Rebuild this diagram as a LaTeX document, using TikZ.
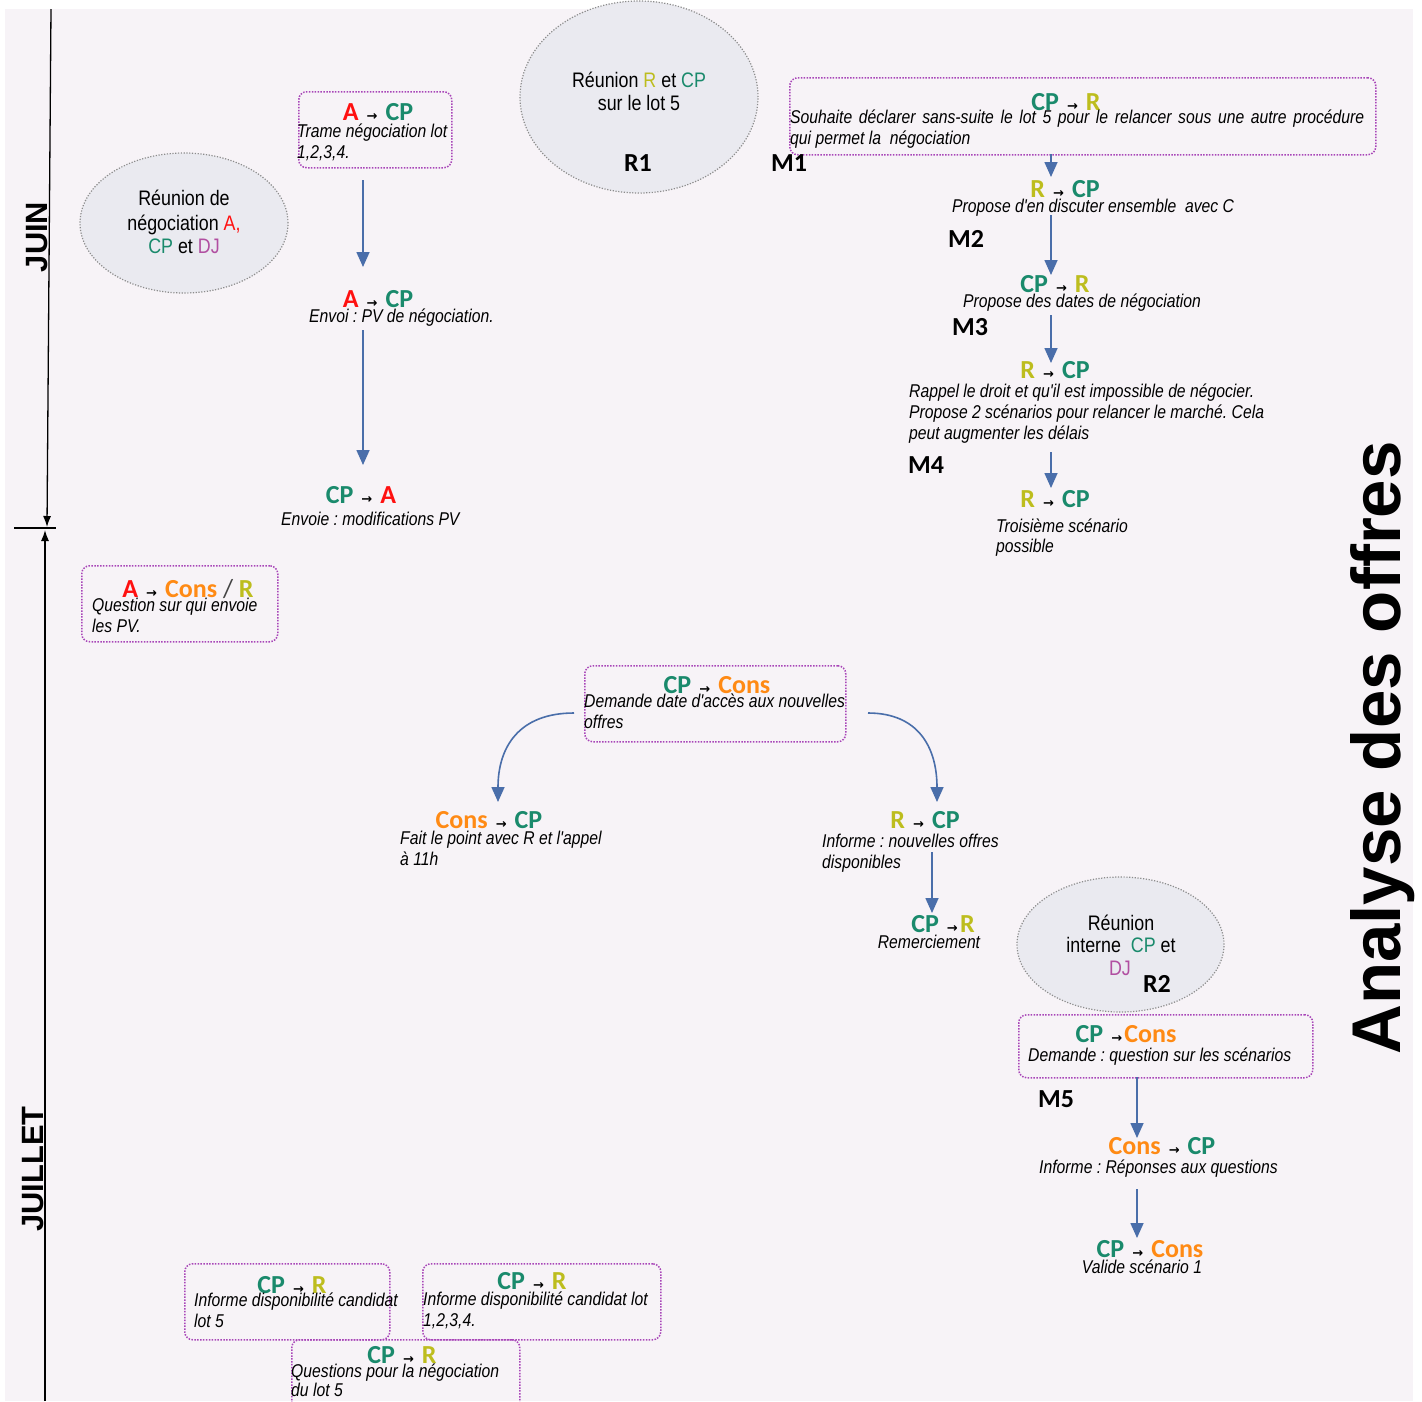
\documentclass[tikz,border=0pt]{standalone}
\usepackage{fontspec}
\setmainfont{Liberation Sans}
\newfontfamily\nrw[FakeStretch=0.85]{Liberation Sans}
\newfontfamily\carl{Carlito}
\newfontfamily\djv{DejaVu Sans}
\usetikzlibrary{shapes.geometric,arrows.meta}
\definecolor{bgc}{HTML}{F7F3F7}
\definecolor{cA}{HTML}{FF1010}
\definecolor{cCP}{HTML}{1A8A6C}
\definecolor{cR}{HTML}{BDBD1E}
\definecolor{cCons}{HTML}{FF8A14}
\definecolor{cDJ}{HTML}{B14FA1}
\definecolor{boxc}{HTML}{A845B8}
\definecolor{ellf}{HTML}{EAEAF0}
\definecolor{elld}{HTML}{8C8C8C}
\definecolor{arrc}{HTML}{4A6EAA}
\definecolor{slc}{HTML}{444444}
\newcommand\kA{\textcolor{cA}{A}}
\newcommand\kCP{\textcolor{cCP}{CP}}
\newcommand\kR{\textcolor{cR}{R}}
\newcommand\kCons{\textcolor{cCons}{Cons}}
\newcommand\kDJ{\textcolor{cDJ}{DJ}}
\newcommand\tto{{\djv\fontsize{13}{13}\selectfont\,→\,}}
\frenchspacing
\begin{document}
\begin{tikzpicture}[x=1pt,y=-1pt,
  hdr/.style={font=\carl\bfseries\fontsize{26}{28}\selectfont, inner sep=0, anchor=base},
  lab/.style={font=\carl\bfseries\fontsize{26}{28}\selectfont, inner sep=0, anchor=base},
  body/.style={font=\nrw\itshape\fontsize{18.5}{21}\selectfont, inner sep=0, anchor=north west, yshift=14pt, align=left, execute at begin node={\frenchspacing\rule{0pt}{14pt}}},
  bodyc/.style={font=\nrw\itshape\fontsize{18.5}{21}\selectfont, inner sep=0, anchor=base},
  etxt/.style={font=\nrw\fontsize{21}{24}\selectfont, inner sep=0, anchor=base},
  month/.style={font=\bfseries\fontsize{30.8}{32}\selectfont, inner sep=0, anchor=base, rotate=90},
  msgbox/.style={draw=boxc, line width=1.5pt, dash pattern=on 1.5pt off 1.4pt, rounded corners=8pt, inner sep=0, anchor=north west},
  ell/.style={ellipse, fill=ellf, draw=elld, line width=1.2pt, dash pattern=on 1.2pt off 1.6pt, inner sep=0},
  arr/.style={draw=arrc, line width=1.6pt, -{Triangle[length=15pt,width=13pt]}},
  tline/.style={line width=1.3pt, -{Latex[length=11pt,width=8pt]}}]
\useasboundingbox (0,0) rectangle (1422,1401);
\fill[white] (0,0) rectangle (1422,1401);
\fill[bgc] (5,9) rectangle (1413,1401);

% timeline
\coordinate (tA) at (51,9);
\coordinate (tB) at (47,527);
\coordinate (tC) at (45,1401);
\coordinate (tD) at (45,530);
\coordinate (tk1) at (14,528);
\coordinate (tk2) at (56,528);
\draw[tline] (tA) -- (tB);
\draw[tline] (tC) -- (tD);
\draw[line width=2pt] (tk1) -- (tk2);
\node[month] (juin) at (47,237) {JUIN};
\node[month] (juillet) at (43,1169) {JUILLET};
\node[font=\bfseries\fontsize{69}{70}\selectfont, inner sep=0, anchor=base, rotate=90] (analyse) at (1400,748) {Analyse des offres};

% ellipses
\node[ell, minimum width=208, minimum height=140] (e1) at (184,223) {};
\node[etxt] (e1a) at (184,205) {Réunion de};
\node[etxt] (e1b) at (184,230) {négociation \textcolor{cA}{A,}};
\node[etxt] (e1c) at (184,253) {\kCP{} et \kDJ};

\node[ell, minimum width=238, minimum height=192] (e2) at (639,97) {};
\node[etxt] (e2a) at (639,87) {Réunion \kR{} et \kCP};
\node[etxt] (e2b) at (639,110) {sur le lot 5};
\node[lab] (r1) at (638,171) {R1};

\node[ell, minimum width=207, minimum height=135] (e3) at (1120.5,944.5) {};
\node[etxt] (e3a) at (1121,930) {Réunion};
\node[etxt] (e3b) at (1121,952) {interne \ \kCP{} et};
\node[etxt] (e3c) at (1120,975) {\kDJ};
\node[lab] (r2) at (1157,992) {R2};

% left column (juin)
\node[msgbox, minimum width=153, minimum height=76] (b1) at (298,91) {};
\node[hdr] (h1) at (378,120) {\kA{} \tto{} \kCP};
\node[body] (t1) at (297,138) {Trame négociation lot\\1,2,3,4.};
\node[hdr] (h2) at (378,307) {\kA{} \tto{} \kCP};
\node[body] (t2) at (309,322) {Envoi : PV de négociation.};
\node[hdr] (h3) at (361,503) {\kCP{} \tto{} \kA};
\node[body] (t3) at (281,525) {Envoie : modifications PV};
\coordinate (a1s) at (363,180); \coordinate (a1e) at (363,267);
\coordinate (a2s) at (363,330); \coordinate (a2e) at (363,465);
\draw[arr] (a1s) -- (a1e);
\draw[arr] (a2s) -- (a2e);

% right column (M1-M4)
\node[msgbox, minimum width=586, minimum height=77] (bM1) at (789,77) {};
\node[hdr] (hM1) at (1066,110) {\kCP{} \tto{} \kR};
\node[body] (tM1) at (790,124) {\makebox[574pt][s]{Souhaite déclarer sans-suite le lot 5 pour le relancer sous une autre procédure}\\qui permet la \ négociation};
\node[lab] (m1) at (789,171) {M1};
\node[hdr] (hM2) at (1065,197) {\kR{} \tto{} \kCP};
\node[body] (tM2) at (952,212) {Propose d'en discuter ensemble \ avec C};
\node[lab] (m2) at (966,247) {M2};
\node[hdr] (hM3) at (1055,292) {\kCP{} \tto{} \kR};
\node[body] (tM3) at (963,307) {Propose des dates de négociation};
\node[lab] (m3) at (970,335) {M3};
\node[hdr] (hM4) at (1055,378) {\kR{} \tto{} \kCP};
\node[body] (tM4) at (909,398) {Rappel le droit et qu'il est impossible de négocier.\\Propose 2 scénarios pour relancer le marché. Cela\\peut augmenter les délais};
\node[lab] (m4) at (926,473) {M4};
\node[hdr] (hM5) at (1055,507) {\kR{} \tto{} \kCP};
\node[body, font=\nrw\itshape\fontsize{18.5}{20}\selectfont] (tM5) at (996,533) {Troisième scénario\\possible};
\coordinate (c1s) at (1051,154); \coordinate (c1e) at (1051,177);
\coordinate (c2s) at (1051,215); \coordinate (c2e) at (1051,275);
\coordinate (c3s) at (1051,315); \coordinate (c3e) at (1051,363);
\coordinate (c4s) at (1051,452); \coordinate (c4e) at (1051,488);
\draw[arr] (c1s) -- (c1e);
\draw[arr] (c2s) -- (c2e);
\draw[arr] (c3s) -- (c3e);
\draw[arr] (c4s) -- (c4e);

% juillet left box
\node[msgbox, minimum width=196, minimum height=76] (bQ) at (81,565) {};
\node[hdr] (hQ) at (188,597) {\kA{} \tto{} \kCons{} {\mdseries\textcolor{slc}{/}} \kR};
\node[body] (tQ) at (92,612) {Question sur qui envoie\\les PV.};

% centre
\node[msgbox, minimum width=261, minimum height=76] (bC) at (584,665) {};
\node[hdr] (hC) at (717,693) {\kCP{} \tto{} \kCons};
\node[body] (tC) at (584,708) {Demande date d'accès aux nouvelles\\offres};
\node[hdr] (hL) at (489,828) {\kCons{} \tto{} \kCP};
\node[body] (tL) at (400,845) {Fait le point avec R et l'appel\\à 11h};
\node[hdr] (hR) at (925,828) {\kR{} \tto{} \kCP};
\node[body] (tR) at (822,848) {Informe : nouvelles offres\\disponibles};
\node[hdr] (hRR) at (943,932) {\kCP{} \tto\kR};
\node[bodyc] (tRR) at (929,948) {Remerciement};
\coordinate (cl0) at (574,713); \coordinate (cl1) at (498,802);
\coordinate (cr0) at (868,713); \coordinate (cr1) at (937,802);
\coordinate (d1s) at (932,852); \coordinate (d1e) at (932,913);
\draw[arr] (cl0) .. controls +(-55,0) and +(0,-55) .. (cl1);
\draw[arr] (cr0) .. controls +(50,0) and +(0,-55) .. (cr1);
\draw[arr] (d1s) -- (d1e);

% M5
\node[msgbox, minimum width=294, minimum height=63] (bM5) at (1018,1014) {};
\node[hdr] (hM5b) at (1126,1042) {\kCP{} \tto\kCons};
\node[body] (tM5b) at (1028,1061) {Demande : question sur les scénarios};
\node[lab] (m5) at (1056,1107) {M5};
\node[hdr] (hI) at (1162,1154) {\kCons{} \tto{} \kCP};
\node[body] (tI) at (1039,1173) {Informe : Réponses aux questions};
\node[hdr] (hV) at (1150,1257) {\kCP{} \tto{} \kCons};
\node[bodyc] (tV) at (1142,1273) {Valide scénario 1};
\coordinate (f1s) at (1137,1077); \coordinate (f1e) at (1137,1138);
\coordinate (f2s) at (1137,1189); \coordinate (f2e) at (1137,1238);
\draw[arr] (f1s) -- (f1e);
\draw[arr] (f2s) -- (f2e);

% bottom boxes
\node[msgbox, minimum width=205, minimum height=76] (ba) at (184,1263) {};
\node[hdr] (ha) at (292,1293) {\kCP{} \tto{} \kR};
\node[body] (ta) at (194,1307) {Informe disponibilité candidat\\lot 5};
\node[msgbox, minimum width=238, minimum height=76] (bb) at (422,1263) {};
\node[hdr] (hb) at (532,1289) {\kCP{} \tto{} \kR};
\node[body] (tb) at (423,1306) {Informe disponibilité candidat lot\\1,2,3,4.};
\node[msgbox, minimum width=228, minimum height=90] (bc) at (291,1339) {};
\node[hdr] (hc) at (402,1363) {\kCP{} \tto{} \kR};
\node[body, font=\nrw\itshape\fontsize{18.5}{19}\selectfont] (tc) at (291,1378) {Questions pour la négociation\\du lot 5};
\end{tikzpicture}
\end{document}
